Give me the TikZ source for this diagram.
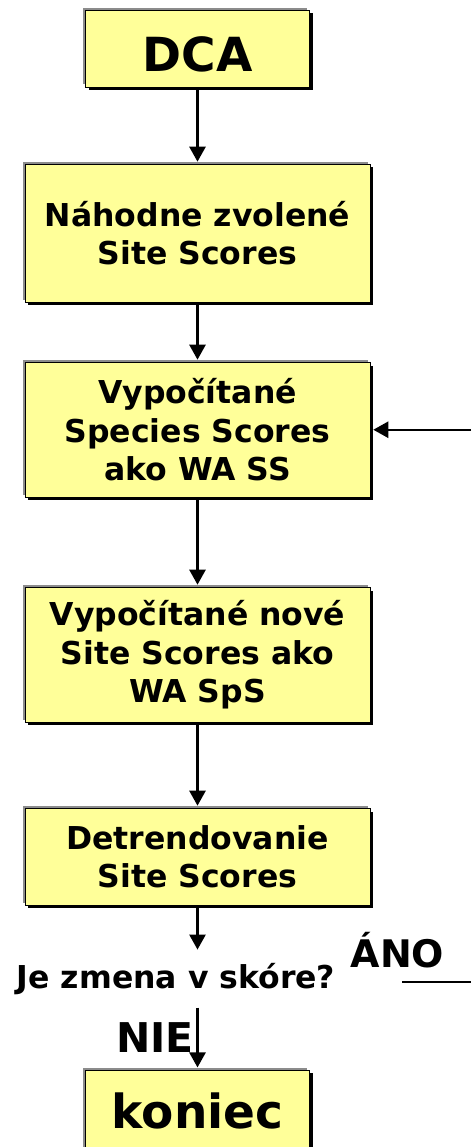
\documentclass[tikz,border=0pt]{standalone}
\usepackage{fontspec}
\setmainfont{DejaVu Sans}
\usetikzlibrary{arrows.meta,shadows}
\definecolor{boxfill}{RGB}{255,255,153}
\tikzset{
  flowbox/.style={draw=black, line width=0.6pt, fill=boxfill, align=center, inner sep=0pt,
    general shadow={shadow xshift=-2.5pt, shadow yshift=2.5pt, fill=black!45},
    general shadow={shadow xshift=3pt, shadow yshift=-3pt, fill=black}},
  widebox/.style={flowbox, minimum width=345pt, font=\bfseries\fontsize{31.5}{38.5}\selectfont},
  bigbox/.style={flowbox, minimum width=224pt, font=\bfseries\fontsize{47}{56}\selectfont},
  conn/.style={line width=2.5pt, -{Triangle[width=16pt,length=15pt]}},
  plainline/.style={line width=2.5pt},
}
\begin{document}
\begin{tikzpicture}[x=1pt,y=-1pt]
\useasboundingbox (0,0) rectangle (471,1147);

% process boxes
\node[bigbox, minimum height=76.5pt, text height=46pt, text depth=0pt] (dca) at (197.5,48.75) {DCA};
\node[widebox, minimum height=137.5pt] (b2) at (197.5,233.25) {Náhodne zvolené\\Site Scores};
\node[widebox, minimum height=134.5pt] (b3) at (197.5,429.75) {Vypočítané\\Species Scores\\ako WA SS};
\node[widebox, minimum height=134.5pt] (b4) at (197.5,654.75) {Vypočítané nové\\Site Scores ako\\WA SpS};
\node[widebox, minimum height=96.5pt] (b5) at (197.5,856.75) {Detrendovanie\\Site Scores};
\node[bigbox, minimum height=79.5pt, text height=36pt, text depth=0pt] (kon) at (197.5,1110) {koniec};

% decision and its answers
\node[anchor=base, inner xsep=0pt, inner ysep=13pt, font=\bfseries\fontsize{31.5}{38}\selectfont] (dec) at (176,988) {Je zmena v skóre?};
\node[anchor=base, inner sep=0pt, font=\bfseries\fontsize{38}{45}\selectfont] (ano) at (397.5,967) {ÁNO};
\node[anchor=base, inner sep=0pt, font=\bfseries\fontsize{41}{49}\selectfont] (nie) at (155,1052) {NIE};

\coordinate (yesstart) at (402,982);
\coordinate (yesend) at (471,982);

% connectors
\draw[conn, shorten >=2.5pt] (dca.south) -- (b2.north);
\draw[conn, shorten >=2.5pt] (b2.south) -- (b3.north);
\draw[conn, shorten >=2.5pt] (b3.south) -- (b4.north);
\draw[conn, shorten >=2.5pt] (b4.south) -- (b5.north);
\draw[conn] (b5.south) -- (b5.south |- dec.north);
\draw[conn, shorten >=2.5pt] (dec.south -| kon.north) -- (kon.north);
\draw[plainline] (yesstart) -- (yesend);
\draw[conn, shorten >=3pt] (yesend |- b3.east) -- (b3.east);
\end{tikzpicture}
\end{document}
